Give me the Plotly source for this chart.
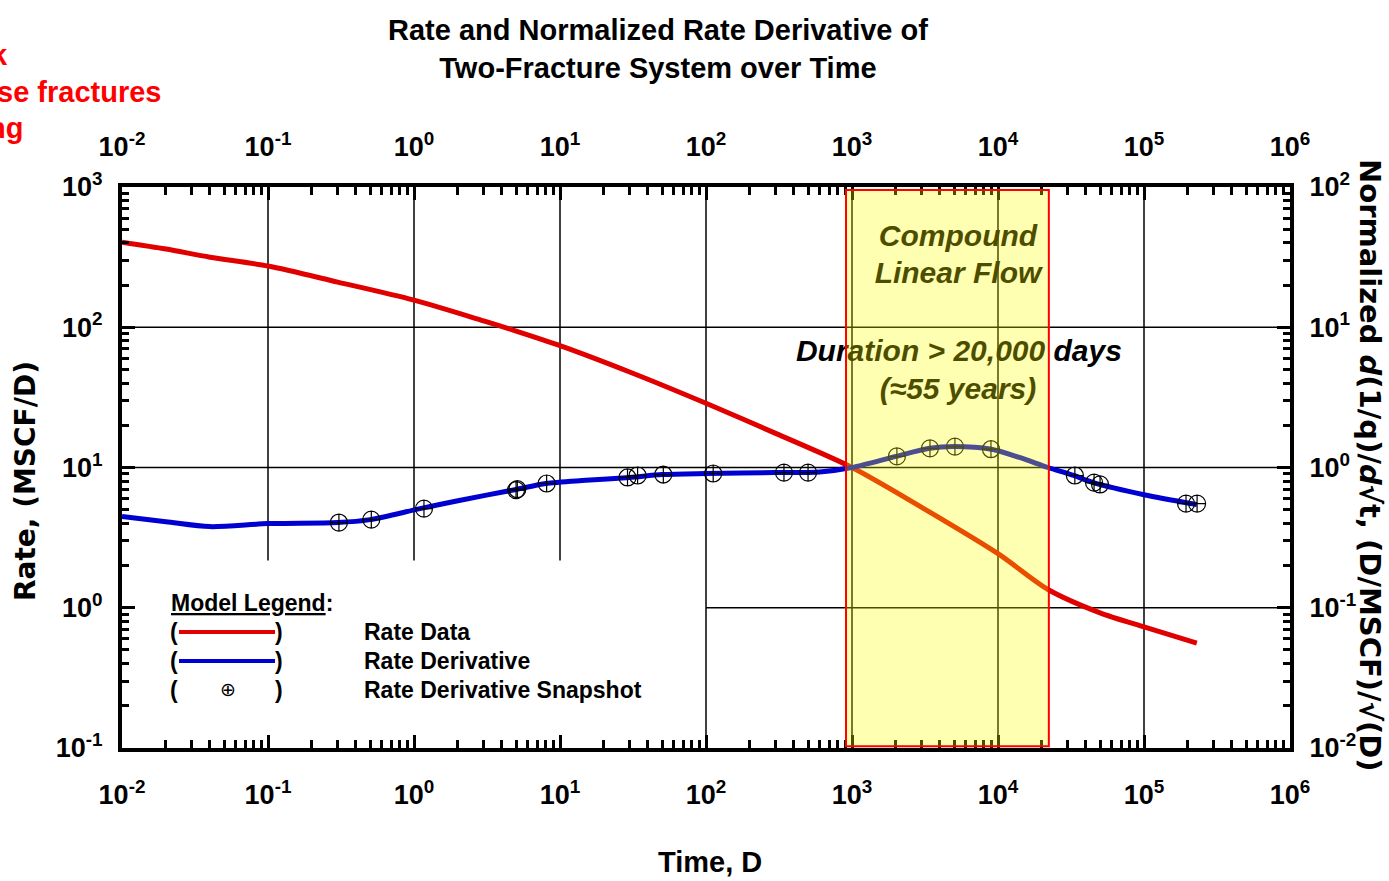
import plotly.graph_objects as go

# ---------------- data ----------------
rate_time = [0.01, 0.02, 0.04, 0.1, 0.3, 1, 3, 5, 10, 30, 100, 300, 1000, 3000,
             10000, 22000, 50000, 100000, 230000]
rate_data = [404, 361, 316, 273, 210, 156, 111, 94, 74, 48, 28.7, 17.5, 10.0, 5.2,
             2.43, 1.35, 0.92, 0.73, 0.56]

deriv_time = [0.01, 0.02, 0.04, 0.1, 0.3, 0.5, 1.1, 2, 5, 8, 15, 30, 50, 100, 300,
              600, 1000, 2000, 3400, 5000, 9000, 14000, 22000, 33000, 45000,
              100000, 230000]
deriv_data = [0.447, 0.411, 0.379, 0.398, 0.405, 0.425, 0.509, 0.58, 0.697, 0.769,
              0.81, 0.849, 0.89, 0.906, 0.92, 0.93, 1.0, 1.2, 1.37, 1.41, 1.35,
              1.18, 1.0, 0.877, 0.78, 0.64, 0.545]

snap_time = [0.306, 0.51, 1.17, 5.0, 5.1, 8.1, 29, 34, 51, 112, 342, 500, 2030,
             3420, 5070, 8950, 33600, 45500, 50000, 194000, 231000]
snap_data = [0.405, 0.425, 0.509, 0.69, 0.70, 0.769, 0.849, 0.877, 0.891, 0.906,
             0.92, 0.92, 1.2, 1.37, 1.41, 1.35, 0.877, 0.78, 0.757, 0.553, 0.553]

x_major = [1e-2, 1e-1, 1e0, 1e1, 1e2, 1e3, 1e4, 1e5, 1e6]
x_labels = ["10<sup>-2</sup>", "10<sup>-1</sup>", "10<sup>0</sup>", "10<sup>1</sup>",
            "10<sup>2</sup>", "10<sup>3</sup>", "10<sup>4</sup>", "10<sup>5</sup>",
            "10<sup>6</sup>"]
yl_major = [1e-1, 1e0, 1e1, 1e2, 1e3]
yl_labels = ["10<sup>-1</sup>", "10<sup>0</sup>", "10<sup>1</sup>", "10<sup>2</sup>",
             "10<sup>3</sup>"]
yr_major = [1e-2, 1e-1, 1e0, 1e1, 1e2]
yr_labels = ["10<sup>-2</sup>", "10<sup>-1</sup>", "10<sup>0</sup>", "10<sup>1</sup>",
             "10<sup>2</sup>"]

clf_start, clf_end = 910, 22300   # compound linear flow window (days)


def minors(majors):
    out = []
    for m in majors[:-1]:
        out += [m * k for k in range(2, 10)]
    return out


ARIAL = "Liberation Sans, Arial, sans-serif"
DEJA = "DejaVu Sans, sans-serif"

fig = go.Figure()

fig.add_trace(go.Scatter(x=rate_time, y=rate_data, mode="lines", yaxis="y",
                         line=dict(color="#e00000", width=5, shape="spline", smoothing=0.8),
                         name="Rate Data", showlegend=False))
fig.add_trace(go.Scatter(x=deriv_time, y=deriv_data, mode="lines", yaxis="y2",
                         line=dict(color="#0000d0", width=5, shape="spline", smoothing=0.8),
                         name="Rate Derivative", showlegend=False))
fig.add_trace(go.Scatter(x=snap_time, y=snap_data, mode="markers", yaxis="y2",
                         marker=dict(symbol="circle-cross-open", size=17,
                                     color="black", line=dict(width=1.2, color="black")),
                         name="Rate Derivative Snapshot", showlegend=False))

# text inside the flow window (drawn as trace text so the yellow overlay tints it)
fig.add_trace(go.Scatter(
    x=[5320, 5320, 5400, 5320], y=[43.2, 23.5, 6.52, 3.49], yaxis="y2",
    mode="text",
    text=["<b><i>Compound</i></b>", "<b><i>Linear Flow</i></b>",
          "<b><i>Duration > 20,000 days</i></b>", "<b><i>(≈55 years)</i></b>"],
    textfont=dict(family=ARIAL, size=30, color="black"),
    textposition="middle center", showlegend=False, hoverinfo="skip"))

shapes = []
# grid lines
grid = dict(color="black", width=1.5)
for xv in [1e-1, 1e0, 1e1]:
    shapes.append(dict(type="line", xref="x", yref="y", x0=xv, x1=xv, y0=2.17, y1=1000,
                       line=grid, layer="below"))
for xv in [1e2, 1e3, 1e4, 1e5]:
    shapes.append(dict(type="line", xref="x", yref="y", x0=xv, x1=xv, y0=0.1, y1=1000,
                       line=grid, layer="below"))
for yv in [10, 100]:
    shapes.append(dict(type="line", xref="x", yref="y", x0=0.01, x1=1e6, y0=yv, y1=yv,
                       line=grid, layer="below"))
shapes.append(dict(type="line", xref="x", yref="y", x0=100, x1=1e6, y0=1, y1=1,
                   line=grid, layer="below"))
# compound linear flow window
shapes.append(dict(type="rect", xref="x", yref="y", x0=clf_start, x1=clf_end,
                   y0=0.103, y1=952, fillcolor="rgba(255,255,0,0.30)",
                   line=dict(color="#ff0000", width=2), layer="above"))


def px(x):
    return (x - 122) / 1168


def py(y):
    return (748 - y) / 561


# legend box
shapes.append(dict(type="line", xref="paper", yref="paper", x0=px(179), x1=px(275),
                   y0=py(632), y1=py(632), line=dict(color="#e00000", width=4)))
shapes.append(dict(type="line", xref="paper", yref="paper", x0=px(179), x1=px(275),
                   y0=py(661), y1=py(661), line=dict(color="#0000d0", width=4)))

ann = []


def note(text, x, y, font, xanchor="center", angle=0):
    ann.append(dict(text=text, x=px(x), y=py(y), xref="paper", yref="paper",
                    xanchor=xanchor, yanchor="middle", showarrow=False,
                    textangle=angle, font=font))


LEG = dict(family=ARIAL, size=23, color="black")
note("<b><u>Model Legend</u>:</b>", 169, 603, LEG, xanchor="left")
for yy, label in zip([632, 661, 690], ["Rate Data", "Rate Derivative",
                                        "Rate Derivative Snapshot"]):
    note("<b>(</b>", 174, yy, LEG)
    note("<b>)</b>", 279, yy, LEG)
    note("<b>" + label + "</b>", 362, yy, LEG, xanchor="left")
note("⊕", 228, 689, dict(family=DEJA, size=19, color="black"))

# titles
note("<b>Rate and Normalized Rate Derivative of<br>Two-Fracture System over Time</b>",
     658, 49, dict(family=ARIAL, size=29, color="black"))
note("<b>Time, D</b>", 710, 862, dict(family=ARIAL, size=29, color="black"))
note("<b>Rate, (MSCF/D)</b>", 25, 481, dict(family=DEJA, size=28, color="black"),
     angle=-90)
note("<b>Normalized <i>d</i>(1/q)/<i>d</i>√t, (D/MSCF)/√(D)</b>", 1370, 465,
     dict(family=DEJA, size=29, color="black"), angle=90)

# red slide text cut off at the left edge
RED = dict(family=ARIAL, size=29, color="#ff0000")
note("<b>k</b>", 10, 55, RED, xanchor="right")
note("<b>se fractures</b>", 163, 92, RED, xanchor="right")
note("<b>ng</b>", 25, 128, RED, xanchor="right")

TICKFONT = dict(family=ARIAL, size=27, color="black")
ticktext = lambda L: ["<b>" + t + "</b>" for t in L]

axis_common = dict(type="log", showgrid=False, zeroline=False, showline=True,
                   linecolor="black", linewidth=4, ticks="inside", ticklen=13,
                   tickwidth=3, tickcolor="black", tickfont=TICKFONT)

fig.update_layout(
    width=1389, height=881, autosize=False,
    margin=dict(l=122, r=99, t=187, b=133),
    paper_bgcolor="white", plot_bgcolor="white",
    showlegend=False,
    xaxis=dict(**axis_common, range=[-2, 6], tickvals=x_major, ticktext=ticktext(x_labels),
               ticklabelstandoff=20,
               minor=dict(ticks="inside", ticklen=8, tickwidth=3, tickcolor="black",
                          tickvals=minors(x_major))),
    xaxis2=dict(**axis_common, range=[-2, 6], overlaying="x", side="top", matches="x",
                tickvals=x_major, ticktext=ticktext(x_labels), ticklabelstandoff=16,
                minor=dict(ticks="inside", ticklen=8, tickwidth=3, tickcolor="black",
                           tickvals=minors(x_major))),
    yaxis=dict(**axis_common, range=[-1, 3], tickvals=yl_major, ticktext=ticktext(yl_labels),
               ticklabelstandoff=10,
               minor=dict(ticks="inside", ticklen=7, tickwidth=3, tickcolor="black",
                          tickvals=minors(yl_major))),
    yaxis2=dict(**axis_common, range=[-2, 2], overlaying="y", side="right",
                tickvals=yr_major, ticktext=ticktext(yr_labels), ticklabelstandoff=10,
                minor=dict(ticks="inside", ticklen=7, tickwidth=3, tickcolor="black",
                           tickvals=minors(yr_major))),
    shapes=shapes,
    annotations=ann,
)

# invisible point so the top axis is drawn
fig.add_trace(go.Scatter(x=[1e-2], y=[1], xaxis="x2", yaxis="y", mode="markers",
                         marker=dict(opacity=0), showlegend=False, hoverinfo="skip"))

fig.write_html("out.html")
